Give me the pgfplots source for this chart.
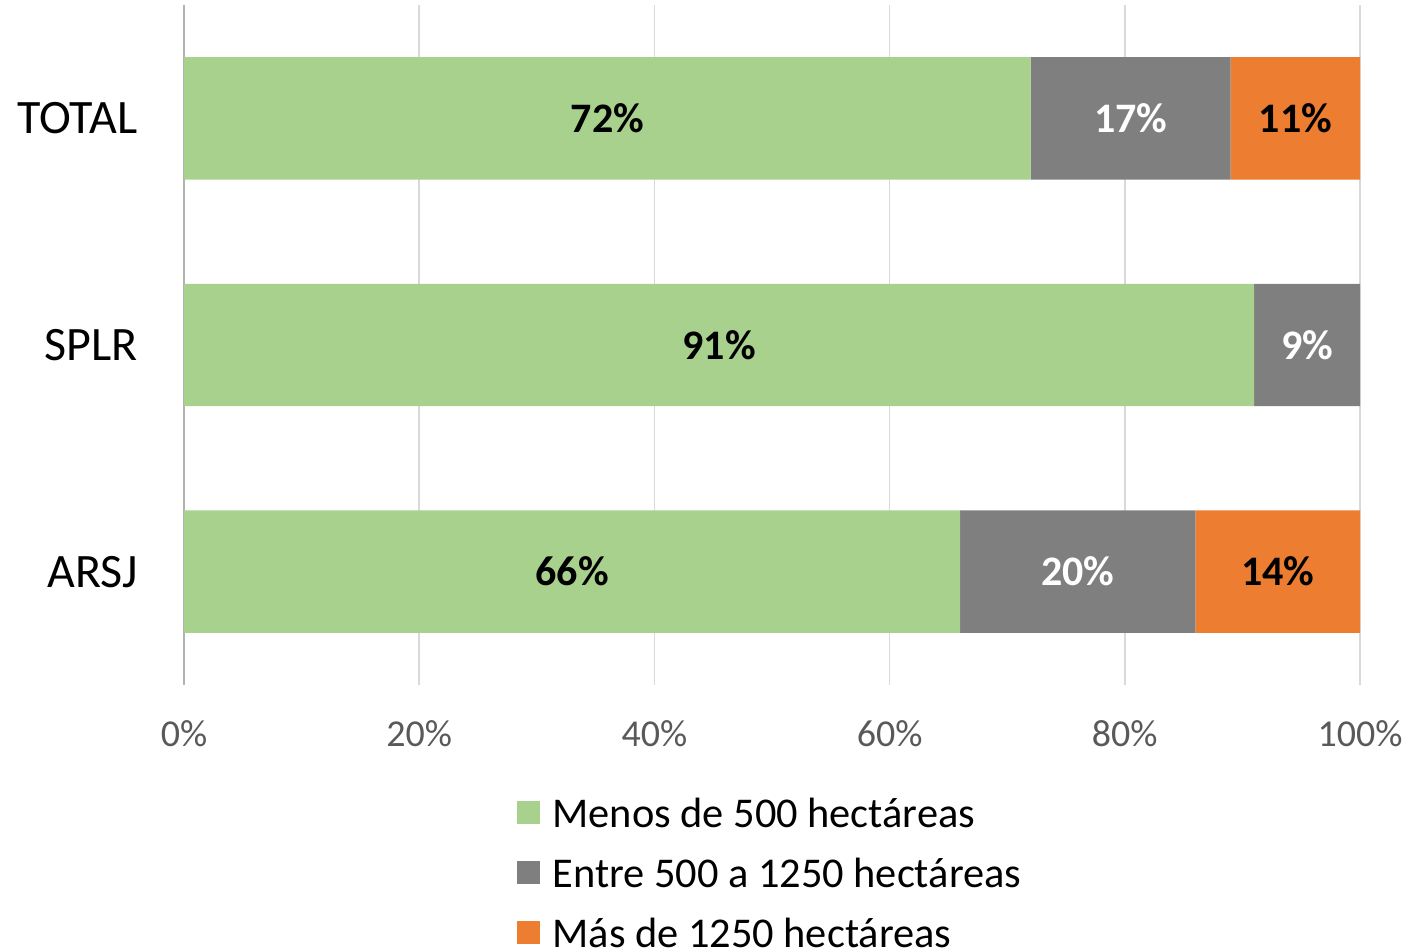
\documentclass[border=0pt]{standalone}
\usepackage{pgfplots}
\usepackage{pgfplotstable}
\pgfplotsset{compat=1.18}
\usepackage{fontspec}
\setmainfont{Carlito}

\definecolor{cGreen}{HTML}{A9D18E}
\definecolor{cGray}{HTML}{7F7F7F}
\definecolor{cOrange}{HTML}{ED7D31}
\definecolor{cGrid}{HTML}{D9D9D9}
\definecolor{cTick}{HTML}{595959}

% y: 0=ARSJ 1=SPLR 2=TOTAL
\pgfplotstableread{
y menos entre mas
0 66 20 14
1 91 9  0
2 72 17 11
}\shares

% label positions: segment start and value
\pgfplotstableread{
y start val
2 0  72
2 89 11
1 0  91
0 0  66
0 86 14
}\blacklabs
\pgfplotstableread{
y start val
2 72 17
1 91 9
0 66 20
}\whitelabs

\begin{document}
\begin{tikzpicture}
\begin{axis}[
  xbar stacked,
  scale only axis,
  width=588pt, height=340pt,
  xmin=0, xmax=100,
  ymin=-0.5, ymax=2.5,
  bar width=0.54,
  ytick={0,1,2},
  yticklabels={ARSJ,SPLR,TOTAL},
  xtick={0,20,...,100},
  xticklabel={\pgfmathprintnumber{\tick}\%},
  /pgf/number format/assume math mode=true,
  major tick length=0pt,
  xmajorgrids,
  grid style={cGrid, line width=0.7pt},
  axis x line*=bottom,
  axis y line*=left,
  x axis line style={draw=none},
  y axis line style={draw=black!30, line width=0.8pt},
  yticklabel style={font=\fontsize{24}{28}\selectfont, anchor=base east,
    inner sep=0pt, xshift=-23pt, yshift=-7.7pt},
  xticklabel style={font=\fontsize{19}{22}\selectfont, text=cTick,
    anchor=base, inner sep=0pt, yshift=-31pt},
  legend style={draw=none, fill=none, at={(0.2832,-0.1674)}, anchor=north west,
    inner sep=0pt, row sep=12pt, column sep=6pt,
    font=\fontsize{21.2}{25}\selectfont,
    nodes={inner sep=0pt, text height=14pt, text depth=4pt}},
  legend cell align=left,
  legend image code/.code={\path[#1,draw=none] (0pt,-3.5pt) rectangle (11.5pt,8pt);},
]
\addplot[fill=cGreen, draw=none] table[x=menos, y=y] {\shares};
\addplot[fill=cGray, draw=none] table[x=entre, y=y] {\shares};
\addplot[fill=cOrange, draw=none] table[x=mas, y=y] {\shares};
\legend{Menos de 500 hectáreas, Entre 500 a 1250 hectáreas, Más de 1250 hectáreas}
\coordinate (bl) at (rel axis cs:0,0);
\coordinate (tr) at (rel axis cs:1,1);
\end{axis}
% overlay axis for the centred segment labels
\begin{axis}[
  scale only axis,
  width=588pt, height=340pt,
  xmin=0, xmax=100,
  ymin=-0.5, ymax=2.5,
  hide axis, clip=false,
  point meta=explicit,
  /pgf/number format/assume math mode=true,
  nodes near coords={\pgfmathprintnumber{\pgfplotspointmeta}\%},
  nodes near coords style={anchor=center, inner sep=0pt,
    font=\bfseries\fontsize{21}{24}\selectfont},
]
\addplot[only marks, mark=none, nodes near coords style={text=black}]
  table[x expr=\thisrow{start}+\thisrow{val}/2, y=y, meta=val] {\blacklabs};
\addplot[only marks, mark=none, nodes near coords style={text=white}]
  table[x expr=\thisrow{start}+\thisrow{val}/2, y=y, meta=val] {\whitelabs};
\end{axis}
\pgfresetboundingbox
\path[use as bounding box] ([xshift=-92pt,yshift=-133pt]bl) rectangle ([xshift=24.5pt,yshift=2.5pt]tr);
\end{tikzpicture}
\end{document}
